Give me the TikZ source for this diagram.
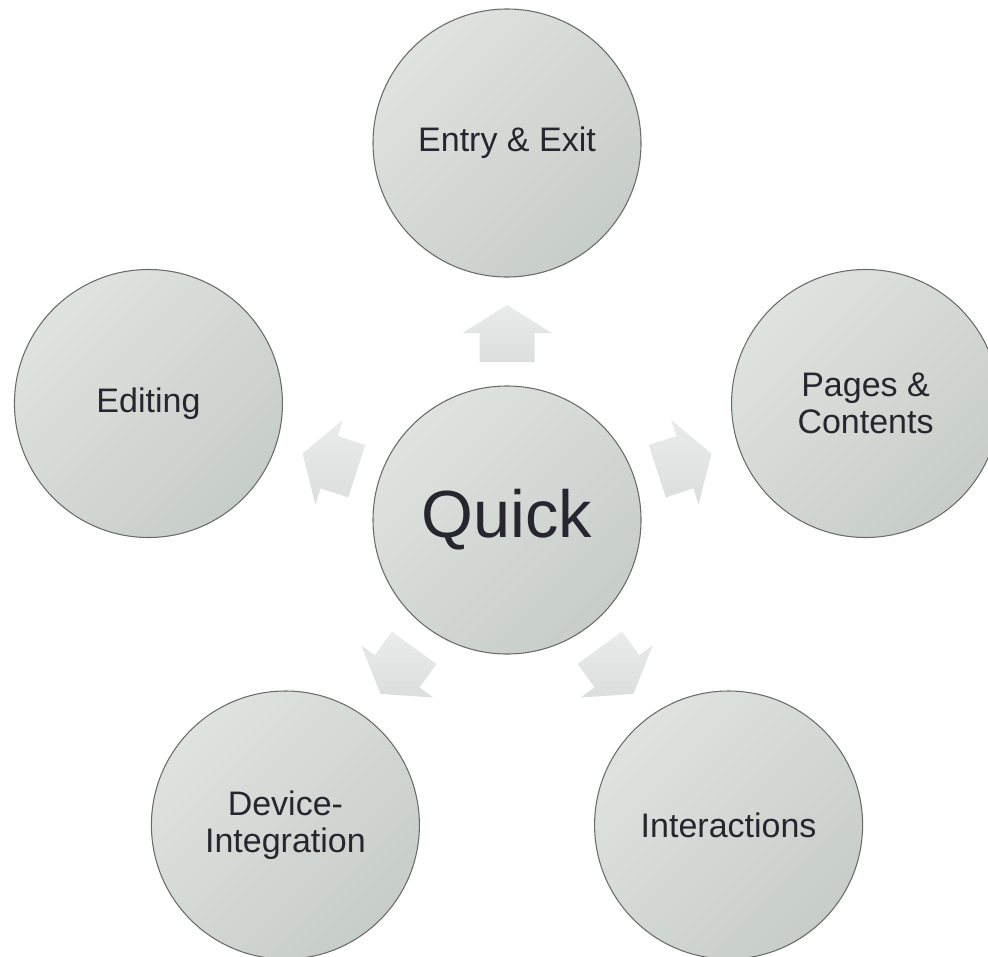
\documentclass[tikz,border=0pt]{standalone}
\usepackage{fontspec}
\setmainfont{Liberation Sans}
\usetikzlibrary{calc}
\definecolor{cLight}{HTML}{DEE3E0}
\definecolor{cDark}{HTML}{C7CDC9}
\definecolor{cEdge}{HTML}{6A6C6B}
\definecolor{aLight}{HTML}{EAECEB}
\definecolor{aDark}{HTML}{DADEDC}
\definecolor{txt}{HTML}{25262E}
\tikzset{
  bubble/.style={circle, minimum size=201pt, inner sep=0pt, draw=cEdge, line width=0.8pt,
    top color=cLight, bottom color=cDark, shading angle=45,
    text=txt, align=center, font=\fontsize{25.5}{27.5}\selectfont},
  hubbubble/.style={bubble, font=\fontsize{50}{56}\selectfont},
  blockarrow/.style={top color=aLight, bottom color=aDark, draw=none}
}
\begin{document}
\begin{tikzpicture}[x=0.75pt,y=0.75pt]
\useasboundingbox (0,0) rectangle (988,-956);
\clip (0,0) rectangle (988,-956);
\fill[white] (0,0) rectangle (988,-956);
\coordinate (c0) at (507,-520);
% arrows
\foreach \ang in {90,18,-54,-126,162}{
  \begin{scope}[shift={(c0)}, rotate=\ang]
    \path[blockarrow] (158,-27.5) -- (187,-27.5) -- (187,-44.5) -- (215,0)
      -- (187,44.5) -- (187,27.5) -- (158,27.5) -- cycle;
  \end{scope}
}
\node[hubbubble] (hub) at (c0) {Quick};
\node[bubble] (entry) at ($(c0)+(90:377)$) {Entry \& Exit};
\node[bubble] (pages) at ($(c0)+(18:377)$) {Pages \&\\Contents};
\node[bubble] (inter) at ($(c0)+(-54:377)$) {Interactions};
\node[bubble] (device) at ($(c0)+(-126:377)$) {Device-\\Integration};
\node[bubble] (edit) at ($(c0)+(162:377)$) {Editing};
\end{tikzpicture}
\end{document}
